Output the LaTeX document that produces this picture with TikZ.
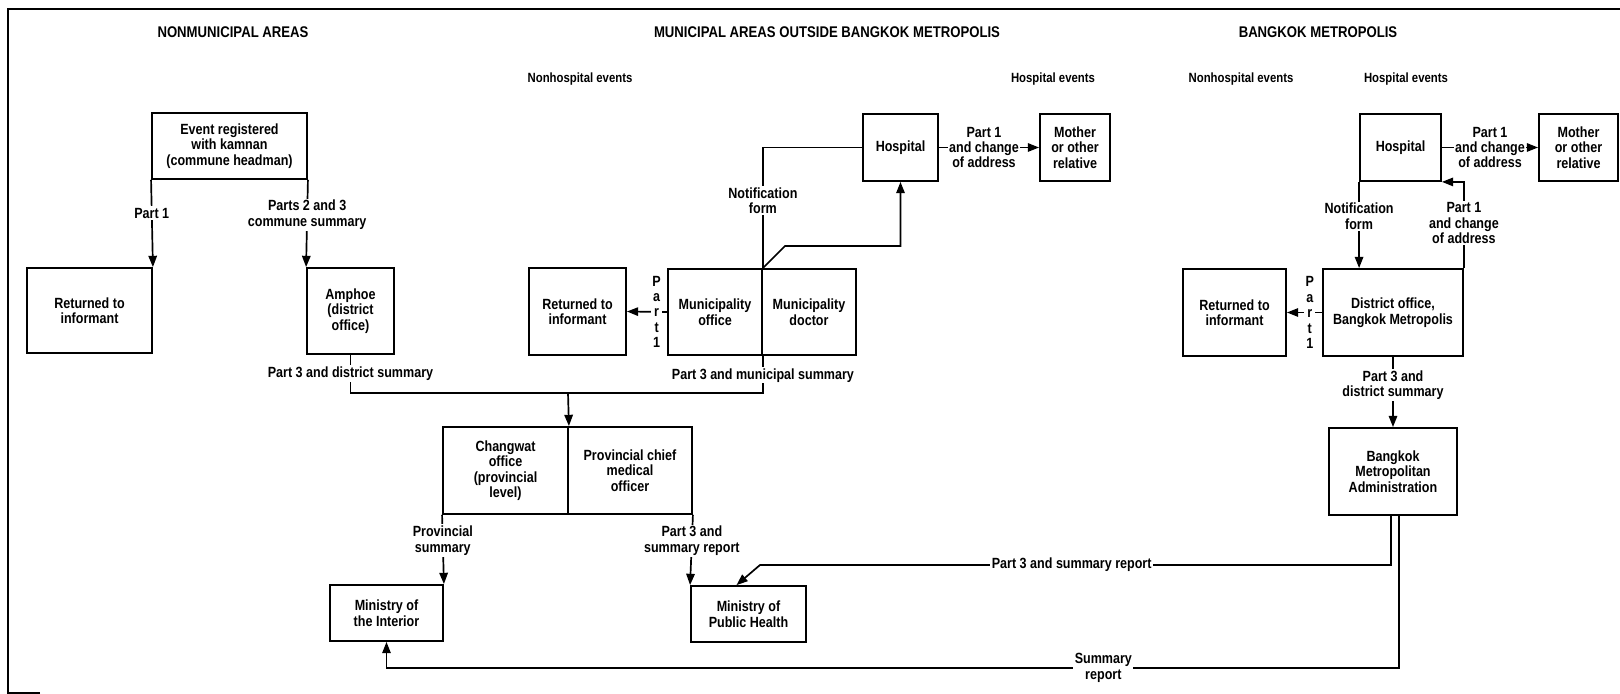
\documentclass[tikz,border=0pt]{standalone}
\usepackage{fontspec}
\setmainfont{Liberation Sans}[FakeStretch=0.85]
\usetikzlibrary{arrows.meta}

\begin{document}
\begin{tikzpicture}[x=0.025cm, y=-0.025cm, line width=1.2pt,
        font=\fontsize{10.5}{11}\selectfont\bfseries,
        box/.style={draw, line width=1.3pt, align=center, inner sep=1pt},
        lbl/.style={fill=white, inner sep=1pt, align=center},
        flow/.style={-{Triangle[length=8pt,width=6pt]}},
        head/.style={font=\fontsize{11}{13}\selectfont\bfseries},
        sub/.style={font=\fontsize{9.5}{11}\selectfont\bfseries}]
        \useasboundingbox (0,0) rectangle (1620,694);
        \draw[line width=1.4pt] (40,693) -- (8,693) -- (8,9) -- (1620,9);
        \node[head] (h1) at (233,32) {NONMUNICIPAL AREAS};
        \node[head] (h2) at (827,32) {MUNICIPAL AREAS OUTSIDE BANGKOK METROPOLIS};
        \node[head] (h3) at (1318,32) {BANGKOK METROPOLIS};
        \node[sub] (s1) at (580,79) {Nonhospital events};
        \node[sub] (s2) at (1053,79) {Hospital events};
        \node[sub] (s3) at (1241,79) {Nonhospital events};
        \node[sub] (s4) at (1406,79) {Hospital events};
        \node[box, minimum width=3.875cm, minimum height=1.65cm] (event) at (229.5,146) {Event registered\\with kamnan\\(commune headman)};
        \node[box, minimum width=3.125cm, minimum height=2.125cm] (ret1) at (89.5,310.5) {Returned to\\informant};
        \node[box, minimum width=2.175cm, minimum height=2.15cm] (amphoe) at (350.5,311) {Amphoe\\(district\\office)};
        \node[box, minimum width=2.425cm, minimum height=2.175cm] (ret2) at (577.5,311.5) {Returned to\\informant};
        \node[box, minimum width=2.35cm, minimum height=2.15cm] (munioff) at (715,312) {Municipality\\office};
        \node[box, minimum width=2.35cm, minimum height=2.15cm] (munidoc) at (809,312) {Municipality\\doctor};
        \node[box, minimum width=1.875cm, minimum height=1.675cm] (hosp1) at (900.5,147.5) {Hospital};
        \node[box, minimum width=1.75cm, minimum height=1.675cm] (mother1) at (1075,147.5) {Mother\\or other\\relative};
        \node[box, minimum width=3.125cm, minimum height=2.175cm] (changwat) at (505.5,470.5) {Changwat\\office\\(provincial\\level)};
        \node[box, minimum width=3.1cm, minimum height=2.175cm] (pcmo) at (630,470.5) {Provincial chief\\medical\\officer};
        \node[box, minimum width=2.825cm, minimum height=1.4cm] (interior) at (386.5,613) {Ministry of\\the Interior};
        \node[box, minimum width=2.875cm, minimum height=1.4cm] (health) at (748.5,614) {Ministry of\\Public Health};
        \node[box, minimum width=2.025cm, minimum height=1.675cm] (hosp2) at (1400.5,147.5) {Hospital};
        \node[box, minimum width=1.975cm, minimum height=1.675cm] (mother2) at (1578.5,147.5) {Mother\\or other\\relative};
        \node[box, minimum width=3.5cm, minimum height=2.175cm] (district) at (1393,312.5) {District office,\\Bangkok Metropolis};
        \node[box, minimum width=2.575cm, minimum height=2.175cm] (ret3) at (1234.5,312.5) {Returned to\\informant};
        \node[box, minimum width=3.2cm, minimum height=2.175cm] (bma) at (1393,471.5) {Bangkok\\Metropolitan\\Administration};
        \coordinate (j) at (568,393);
        \coordinate (k1) at (785,246);
        \coordinate (k2) at (760,565);
        \coordinate (k3) at (386.5,668);
        \draw[flow] (event.south west) -- node[lbl, pos=0.38] {Part 1} (ret1.north east);
        \draw[flow] (event.south east) -- node[lbl, pos=0.4] {Parts 2 and 3\\commune summary} (amphoe.north west);
        \draw (amphoe.south) |- node[lbl, pos=0.245] {Part 3 and district summary} (j);
        \draw (munioff.south east) |- node[lbl, pos=0.26] {Part 3 and municipal summary} (j);
        \draw[flow] (j) -- (changwat.north east);
        \draw (hosp1.west) -| node[lbl, pos=0.72] {Notification\\form} (munioff.north east);
        \draw[flow] (munioff.north east) -- (k1) -| (hosp1.south);
        \draw[flow] (hosp1.east) -- node[lbl, pos=0.45] {Part 1\\and change\\of address} (mother1.west);
        \draw[flow] (munioff.west) -- node[lbl, pos=0.26] {P\\a\\r\\t\\1} (ret2.east);
        \draw[flow] (changwat.south west) -- node[lbl, pos=0.37] {Provincial\\summary} (interior.north east);
        \draw[flow] (pcmo.south east) -- node[lbl, pos=0.37] {Part 3 and\\summary report} (health.north west);
        \draw[flow] (hosp2.east) -- node[lbl, pos=0.5] {Part 1\\and change\\of address} (mother2.west);
        \draw[flow] (hosp2.south west) -- node[lbl, pos=0.4] {Notification\\form} (hosp2.south west |- district.north);
        \draw[flow] (district.north east) |- node[lbl, pos=0.26] {Part 1\\and change\\of address} (hosp2.south east);
        \draw[flow] (district.west) -- node[lbl, pos=0.35] {P\\a\\r\\t\\1} (ret3.east);
        \draw[flow] (district.south) -- node[lbl, pos=0.4] {Part 3 and\\district summary} (bma.north);
        \draw[flow] ([xshift=-0.05cm]bma.south) |- node[lbl, pos=0.753] {Part 3 and summary report} (k2) -- ([xshift=-0.3cm]health.north);
        \draw[flow] ([xshift=0.15cm]bma.south) |- node[lbl, pos=0.646] {Summary\\report} (k3) -- (interior.south);
    \end{tikzpicture}
\end{document}
